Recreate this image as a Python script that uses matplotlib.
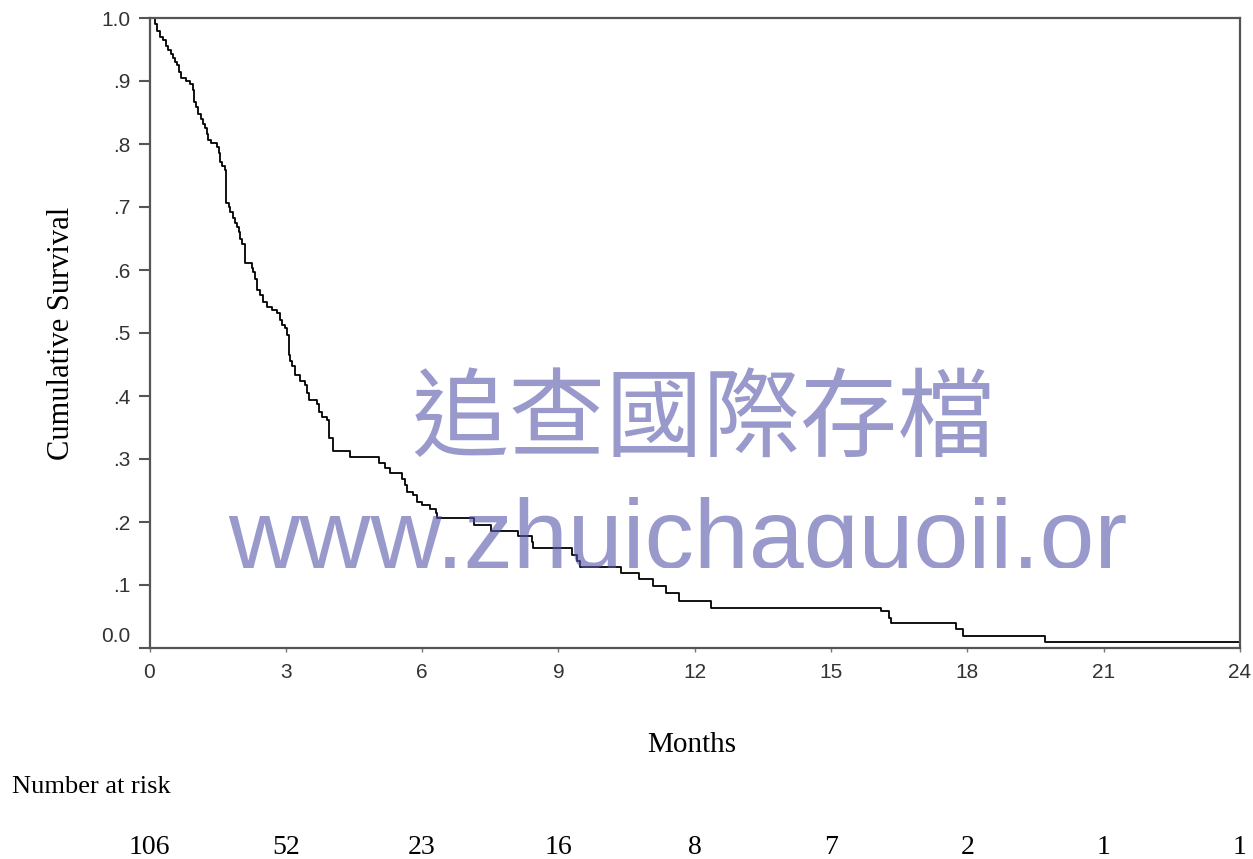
import numpy as np
import matplotlib
matplotlib.use("Agg")
import matplotlib.pyplot as plt
import matplotlib.transforms as mtransforms
from matplotlib.transforms import Bbox, TransformedBbox

# ---------------------------
# DATA
# ---------------------------
event_months = [0.0, 0.12, 0.17, 0.24, 0.30, 0.36, 0.41, 0.47, 0.51, 0.56, 0.60,
                0.65, 0.69, 0.80, 0.89, 0.95, 0.97, 0.99, 1.03, 1.07, 1.13, 1.18,
                1.22, 1.26, 1.29, 1.36, 1.48, 1.52, 1.55, 1.60, 1.66, 1.68, 1.74,
                1.78, 1.84, 1.88, 1.92, 1.96, 1.99, 2.03, 2.10, 2.25, 2.28, 2.32,
                2.36, 2.43, 2.50, 2.58, 2.69, 2.80, 2.87, 2.91, 2.98, 3.02, 3.07,
                3.10, 3.13, 3.20, 3.31, 3.42, 3.47, 3.52, 3.68, 3.72, 3.79, 3.90,
                3.94, 4.03, 4.42, 5.05, 5.18, 5.29, 5.55, 5.62, 5.66, 5.81, 5.88,
                6.00, 6.18, 6.30, 6.33, 7.15, 7.52, 8.12, 8.41, 8.45, 9.30, 9.40,
                9.47, 10.38, 10.78, 11.08, 11.36, 11.66, 12.36, 16.10, 16.28, 16.32,
                17.75, 17.90, 19.70, 24.0]
survival = [1.0, 0.99, 0.98, 0.97, 0.965, 0.955, 0.95, 0.943, 0.937, 0.93, 0.925,
            0.915, 0.905, 0.90, 0.896, 0.886, 0.877, 0.867, 0.858, 0.848, 0.840, 0.832,
            0.826, 0.816, 0.806, 0.801, 0.796, 0.786, 0.772, 0.765, 0.759, 0.707, 0.700,
            0.692, 0.683, 0.675, 0.668, 0.660, 0.650, 0.641, 0.611, 0.603, 0.597, 0.585,
            0.568, 0.560, 0.550, 0.542, 0.537, 0.532, 0.521, 0.513, 0.508, 0.497, 0.465,
            0.455, 0.447, 0.433, 0.424, 0.417, 0.404, 0.394, 0.388, 0.375, 0.367, 0.362,
            0.333, 0.312, 0.303, 0.293, 0.285, 0.278, 0.268, 0.258, 0.248, 0.243, 0.232,
            0.227, 0.220, 0.214, 0.206, 0.195, 0.185, 0.177, 0.169, 0.158, 0.148, 0.138,
            0.129, 0.119, 0.109, 0.098, 0.088, 0.074, 0.064, 0.059, 0.048, 0.039,
            0.030, 0.019, 0.010, 0.010]

x_ticks = [0, 3, 6, 9, 12, 15, 18, 21, 24]
y_ticks = [0.0, 0.1, 0.2, 0.3, 0.4, 0.5, 0.6, 0.7, 0.8, 0.9, 1.0]
y_tick_labels = ["0.0", ".1", ".2", ".3", ".4", ".5", ".6", ".7", ".8", ".9", "1.0"]
at_risk = [106, 52, 23, 16, 8, 7, 2, 1, 1]

W, H = 1253, 859

# ---------------------------
# FIGURE
# ---------------------------
fig = plt.figure(figsize=(W / 100, H / 100), dpi=100)
ax = fig.add_axes([149.5 / W, 1 - 648 / H, (1240 - 149.5) / W, (648 - 18) / H])

ax.step(event_months, survival, where="post", color="black", lw=1.3)

ax.set_xlim(0, 24)
ax.set_ylim(0, 1)
ax.set_xticks(x_ticks)
ax.set_xticklabels([str(t) for t in x_ticks], fontsize=15, family="Liberation Sans", color="#333333")
ax.set_yticks(y_ticks)
ax.set_yticklabels(y_tick_labels, fontsize=15, family="Liberation Sans", color="#333333")
ax.tick_params(axis="y", direction="out", length=8, width=1.5, color="#555555", pad=6)
ax.tick_params(axis="x", direction="out", length=3, width=1.0, color="#777777", pad=8)
for s in ax.spines.values():
    s.set_color("#555555")
    s.set_linewidth(1.6)

# the 0.0 label sits a bit above its tick in the original
lab0 = ax.get_yticklabels()[0]
lab0.set_transform(lab0.get_transform() + mtransforms.ScaledTranslation(0, 14 / 100, fig.dpi_scale_trans))

serif = "Liberation Serif"
ax.set_ylabel("Cumulative Survival", family=serif, fontsize=22, labelpad=18)
fig.text(692 / W, 1 - 745 / H, "Months", family=serif, fontsize=21, ha="center", va="center")
fig.text(12 / W, 1 - 787 / H, "Number at risk", family=serif, fontsize=19, ha="left", va="center")

risk_tf = mtransforms.blended_transform_factory(ax.transData, fig.transFigure)
for t, n in zip(x_ticks, at_risk):
    ax.text(t, 1 - 848 / H, str(n), transform=risk_tf, family=serif, fontsize=20,
            ha="center", va="center", clip_on=False)

# ---------------------------
# WATERMARK
# ---------------------------
wm_color = (85 / 255, 85 / 255, 170 / 255)
fig.text(703 / W, 1 - 421 / H, "追查國際存檔", family=["Noto Sans CJK TC", "DejaVu Sans"],
         fontsize=70, color=wm_color, alpha=0.6, ha="center", va="center", zorder=10)
url = fig.text(228 / W, 1 - 568 / H, "www.zhuichaguoji.org", family="Liberation Sans",
               fontsize=71, color=wm_color, alpha=0.6, ha="left", va="baseline", zorder=10)
url.set_clip_box(TransformedBbox(Bbox.from_extents(0, 1 - 567.5 / H, 1128 / W, 1), fig.transFigure))
url.set_clip_on(True)

fig.savefig("out.png", dpi=100)
